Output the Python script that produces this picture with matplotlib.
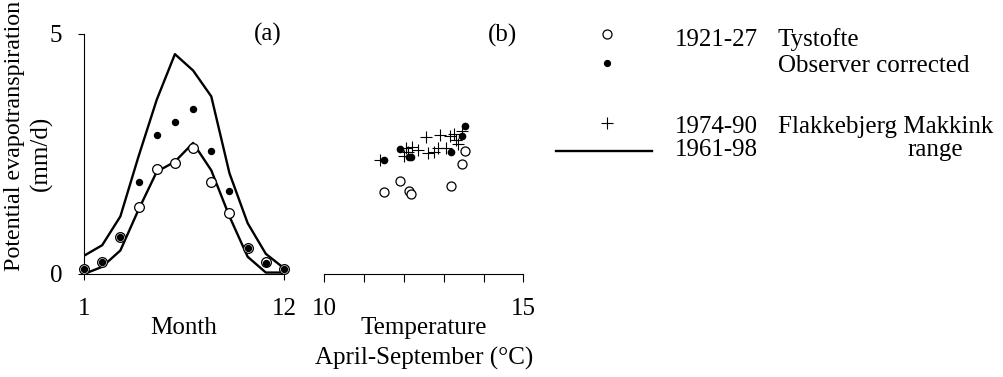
import matplotlib
matplotlib.use("Agg")
import matplotlib.pyplot as plt
import numpy as np

plt.rcParams["font.family"] = ["Liberation Serif", "DejaVu Serif"]
plt.rcParams["font.size"] = 18

# Panel (a): monthly potential evapotranspiration (mm/d)
months = np.arange(1, 13)
range_upper = [0.38, 0.60, 1.20, 2.45, 3.63, 4.58, 4.24, 3.70, 2.10, 1.06, 0.42, 0.12]
range_lower = [0.00, 0.15, 0.49, 1.34, 2.13, 2.34, 2.73, 2.16, 1.20, 0.36, 0.03, 0.03]
tystofte_monthly = [0.10, 0.26, 0.78, 1.39, 2.19, 2.31, 2.62, 1.91, 1.27, 0.54, 0.24, 0.10]
corrected_monthly = [0.10, 0.26, 0.78, 1.91, 2.90, 3.16, 3.44, 2.57, 1.72, 0.54, 0.22, 0.10]

# Panel (b): April-September means against temperature
tystofte_temp = [11.50, 11.90, 12.13, 12.19, 13.18, 13.47, 13.53]
tystofte_et = [1.70, 1.93, 1.73, 1.66, 1.84, 2.30, 2.56]
corrected_et = [2.37, 2.60, 2.44, 2.43, 2.54, 2.88, 3.08]
flakkebjerg_temp = [11.40, 12.00, 12.05, 12.10, 12.20, 12.35, 12.55, 12.60, 12.75,
                    12.85, 12.90, 13.05, 13.15, 13.25, 13.30, 13.35, 13.45]
flakkebjerg_et = [2.38, 2.45, 2.62, 2.55, 2.65, 2.58, 2.85, 2.52, 2.55,
                  2.62, 2.90, 2.62, 2.88, 2.92, 2.80, 2.70, 2.98]

W, H = 1004, 377
fig = plt.figure(figsize=(W / 100, H / 100), dpi=100)

def fx(px):
    return px / W

def fy(py):
    return 1 - py / H

bottom_px, top_px = 274, 34
ax_a = fig.add_axes([fx(84), fy(bottom_px), fx(284) - fx(84), fy(top_px) - fy(bottom_px)])
ax_b = fig.add_axes([fx(324.3), fy(bottom_px), fx(523.3) - fx(324.3), fy(top_px) - fy(bottom_px)])

lw_line = 1.7
ax_a.plot(months, range_upper, color="black", lw=lw_line, zorder=2)
ax_a.plot(months, range_lower, color="black", lw=lw_line, zorder=2)
ax_a.plot(months, tystofte_monthly, "o", ms=7.0, mfc="white", mec="black", mew=0.9,
          zorder=3, clip_on=False)
ax_a.plot(months, corrected_monthly, "o", ms=4.3, mfc="black", mec="black", zorder=4,
          clip_on=False)

ax_a.set_xlim(1, 12)
ax_a.set_ylim(0, 5)
ax_a.set_xticks([1, 12])
ax_a.set_yticks([0, 5])
for s in ["top", "right"]:
    ax_a.spines[s].set_visible(False)
for s in ["left", "bottom"]:
    ax_a.spines[s].set_linewidth(0.8)
ax_a.tick_params(axis="both", length=4.5, width=0.8, direction="out")
ax_a.tick_params(axis="x", pad=13)
ax_a.tick_params(axis="y", pad=11)
ax_a.patch.set_visible(False)

ax_b.plot(flakkebjerg_temp, flakkebjerg_et, "+", ms=9, mew=0.8, color="black", zorder=2)
ax_b.plot(tystofte_temp, tystofte_et, "o", ms=6.5, mfc="white", mec="black", mew=0.9, zorder=3)
ax_b.plot(tystofte_temp, corrected_et, "o", ms=4.5, mfc="black", mec="black", zorder=4)
ax_b.set_xlim(10, 15)
ax_b.set_ylim(0, 5)
ax_b.set_xticks(np.arange(10, 16))
ax_b.set_xticklabels(["10", "", "", "", "", "15"])
ax_b.set_yticks([])
for s in ["top", "right", "left"]:
    ax_b.spines[s].set_visible(False)
ax_b.spines["bottom"].set_linewidth(0.8)
ax_b.tick_params(axis="x", length=5.5, width=0.8, direction="out", pad=12)
ax_b.patch.set_visible(False)

# Axis titles
fig.text(fx(184), fy(328), "Month", ha="center", va="center")
fig.text(fx(424), fy(328), "Temperature", ha="center", va="center")
fig.text(fx(424), fy(358), "April-September (\u00b0C)", ha="center", va="center")
fig.text(fx(15), fy(136), "Potential evapotranspiration", rotation=90,
         ha="center", va="center", fontsize=17.3)
fig.text(fx(41), fy(153), "(mm/d)", rotation=90, ha="center", va="center")
fig.text(fx(268), fy(34), "(a)", ha="center", va="center")
fig.text(fx(503), fy(35), "(b)", ha="center", va="center")

# Key on the right
key = fig.add_axes([0, 0, 1, 1])
key.set_xlim(0, W)
key.set_ylim(H, 0)
key.axis("off")
key.plot([607], [34], "o", ms=6.5, mfc="white", mec="black", mew=0.9)
key.plot([607], [63], "o", ms=4.2, mfc="black", mec="black")
key.plot([607], [123], "+", ms=9, mew=0.8, color="black")
key.plot([556, 652], [150.5, 150.5], color="black", lw=lw_line, clip_on=False)
key.text(675, 40, "1921-27", ha="left", va="center")
key.text(778, 40, "Tystofte", ha="left", va="center")
key.text(778, 66, "Observer corrected", ha="left", va="center")
key.text(675, 127, "1974-90", ha="left", va="center")
key.text(778, 127, "Flakkebjerg Makkink", ha="left", va="center")
key.text(675, 150, "1961-98", ha="left", va="center")
key.text(907, 150, "range", ha="left", va="center")

fig.savefig("out.png", dpi=100)
